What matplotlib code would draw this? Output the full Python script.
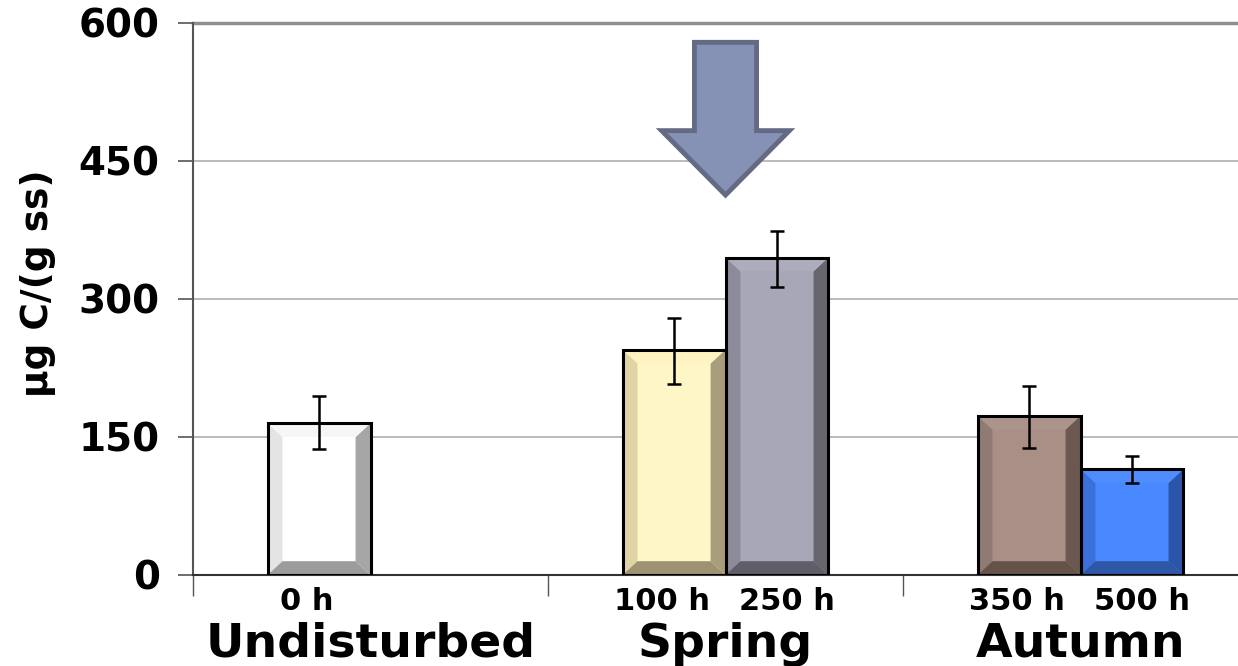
import matplotlib
matplotlib.use('Agg')
import matplotlib.pyplot as plt
from matplotlib.patches import Polygon, FancyArrow

# data
groups = ['Undisturbed', 'Spring', 'Autumn']
labels = ['0 h', '100 h', '250 h', '350 h', '500 h']
group_of = [0, 1, 1, 2, 2]
slot = [0, 0, 1, 0, 1]
values = [165, 245, 345, 173, 115]
err_low = [137, 208, 313, 138, 100]
err_high = [195, 279, 374, 205, 129]

faces = ['#ffffff', '#fff6c8', '#a8a7b7', '#a98f85', '#4a88ff']
left_bev = ['#e4e4e4', '#e0d3a4', '#8c8b9a', '#8f7b73', '#3b70da']
right_bev = ['#a6a6a6', '#a89e7c', '#67666f', '#6b5850', '#2a55a8']
bottom_bev = ['#9c9c9c', '#9e9273', '#5f5e68', '#655349', '#2e58a6']
top_bev = ['#f6f6f6', '#fff3c2', '#adacbc', '#ad948b', '#4f8dff']

plt.rcParams['font.family'] = 'DejaVu Sans'
plt.rcParams['font.weight'] = 'bold'

fig = plt.figure(figsize=(12.38, 6.66), dpi=100)
ax = fig.add_axes([193/1238, 91/666, 1 - 193/1238, 552/666])

width = 0.29
xs = [g + (s - 0.5) * width for g, s in zip(group_of, slot)]

bars = ax.bar(xs, values, width=width, color=faces, edgecolor='black',
              linewidth=2, zorder=3)

# bevel look
bx = 0.042
by = 15
for i, r in enumerate(bars):
    x0, y0 = r.get_x(), r.get_y()
    x1, y1 = x0 + r.get_width(), y0 + r.get_height()
    polys = [
        ([(x0, y0), (x0 + bx, y0 + by), (x0 + bx, y1 - by), (x0, y1)], left_bev[i]),
        ([(x1, y0), (x1 - bx, y0 + by), (x1 - bx, y1 - by), (x1, y1)], right_bev[i]),
        ([(x0, y0), (x1, y0), (x1 - bx, y0 + by), (x0 + bx, y0 + by)], bottom_bev[i]),
        ([(x0, y1), (x1, y1), (x1 - bx, y1 - by), (x0 + bx, y1 - by)], top_bev[i]),
    ]
    for pts, c in polys:
        ax.add_patch(Polygon(pts, closed=True, facecolor=c, edgecolor='none', zorder=4))
    ax.add_patch(plt.Rectangle((x0, y0), x1 - x0, y1 - y0, fill=False,
                               edgecolor='black', linewidth=2.2, zorder=5))

yerr = [[v - lo for v, lo in zip(values, err_low)],
        [hi - v for v, hi in zip(values, err_high)]]
ax.errorbar(xs, values, yerr=yerr, fmt='none', ecolor='black',
            elinewidth=1.8, capsize=5, capthick=1.8, zorder=6)

# arrow pointing at spring
ax.add_patch(FancyArrow(1.0, 579, 0, -166, width=0.175, head_width=0.36,
                        head_length=70, length_includes_head=True,
                        facecolor='#8592b5', edgecolor='#646a84',
                        linewidth=3.5, zorder=7))

ax.set_xlim(-0.5, -0.5 + 1045/355)
ax.set_ylim(0, 600)
ax.set_yticks([0, 150, 300, 450, 600])
ax.set_xticks([-0.5, 0.5, 1.5])
ax.set_xticklabels([])
ax.tick_params(axis='x', length=15, width=1, color='#555555', direction='out')
ax.tick_params(axis='y', length=11, width=1.2, color='#555555', labelsize=28, pad=13)
for t in ax.get_yticklabels():
    t.set_fontweight('bold')

for y in [150, 300, 450]:
    ax.axhline(y, color='#b5b5b5', linewidth=1.3, zorder=1)
ax.axhline(600, color='#8e8e8e', linewidth=2.5, zorder=1, clip_on=False)

for s in ['top', 'right']:
    ax.spines[s].set_visible(False)
ax.spines['left'].set_color('#555555')
ax.spines['left'].set_linewidth(1.5)
ax.spines['bottom'].set_color('#333333')
ax.spines['bottom'].set_linewidth(1.5)

label_shift = [-0.035, 0.028]
for x, s, lab in zip(xs, slot, labels):
    ax.text(x + label_shift[s], -38, lab, ha='center', va='baseline', fontsize=22,
            fontweight='bold', clip_on=False)
for g, name in enumerate(groups):
    ax.text(g, -89, name, ha='center', va='baseline', fontsize=34,
            fontweight='bold', clip_on=False)

fig.text(38/1238, 1 - 283/666, 'µg C/(g ss)', rotation=90, ha='center',
         va='center', fontsize=27, fontweight='bold')

fig.savefig('out.png', dpi=100)
